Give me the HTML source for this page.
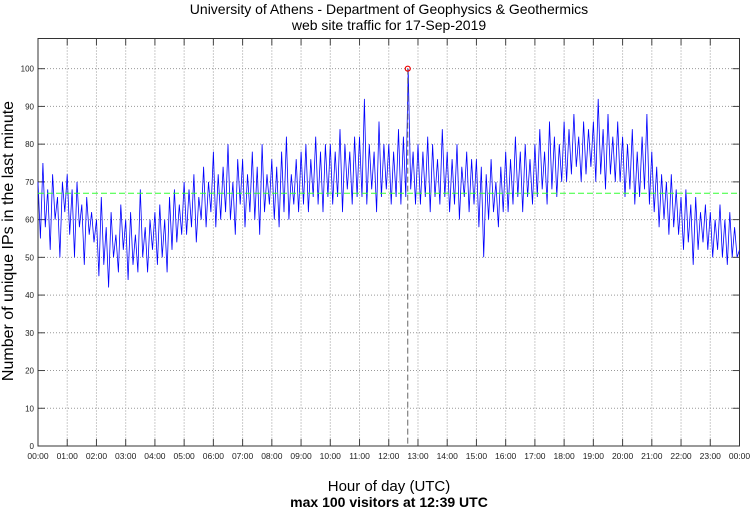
<!DOCTYPE html>
<html><head><meta charset="utf-8"><style>
body{margin:0;background:#fff}
svg{display:block;font-family:"Liberation Sans",sans-serif}
</style></head><body>
<svg id="chart" width="750" height="511" viewBox="0 0 750 511">
<g id="grid"></g>
<g id="axes"></g>
<g id="series"></g>
<text x="389" y="14" font-size="14" text-anchor="middle">University of Athens - Department of Geophysics &amp; Geothermics</text>
<text x="389" y="30" font-size="14" text-anchor="middle">web site traffic for 17-Sep-2019</text>
<text x="389" y="491" font-size="15" text-anchor="middle">Hour of day (UTC)</text>
<text x="389" y="507" font-size="14" font-weight="bold" text-anchor="middle">max 100 visitors at 12:39 UTC</text>
<text transform="translate(13,241) rotate(-90)" font-size="16" text-anchor="middle">Number of unique IPs in the last minute</text>
</svg>
<script>
const yTicks=[0,10,20,30,40,50,60,70,80,90,100];
const xTickLabels=["00:00","01:00","02:00","03:00","04:00","05:00","06:00","07:00","08:00","09:00","10:00","11:00","12:00","13:00","14:00","15:00","16:00","17:00","18:00","19:00","20:00","21:00","22:00","23:00","00:00"];
const meanLevel=67;
const peakHour=12.65;
const peakValue=100;
const visitors=[
70,55,75,58,68,52,72,60,66,50,70,62,
72,56,68,50,70,58,64,48,66,56,62,54,
60,45,66,48,58,42,62,50,56,46,64,52,
60,44,62,48,56,46,68,50,58,46,60,52,
62,48,64,50,60,46,66,52,68,54,64,56,
70,56,68,58,72,54,66,60,74,58,70,62,
78,58,72,60,74,62,80,60,70,56,76,64,
76,58,72,62,78,60,74,56,80,62,72,64,
76,60,74,58,78,62,82,60,72,64,76,62,
78,64,80,62,76,66,82,64,78,62,80,66,
80,64,78,66,84,62,80,68,78,64,82,66,
82,66,92,64,80,68,78,62,86,66,80,68,
80,64,78,66,84,64,82,66,100,68,78,64,
80,64,78,66,82,62,80,66,76,64,84,66,
78,62,76,64,80,60,74,66,78,62,76,64,
76,58,74,50,72,60,76,62,70,58,74,62,
78,62,76,64,82,66,78,62,80,66,76,64,
80,66,84,68,78,64,86,68,82,66,80,70,
86,70,84,72,88,74,82,70,86,72,84,74,
86,70,92,72,84,68,88,72,82,70,86,70,
82,66,80,68,84,64,78,66,82,68,88,64,
78,62,74,58,72,60,70,56,72,58,68,56,
66,52,68,54,64,48,66,52,62,54,64,52,
62,50,60,52,64,50,60,48,62,50,58,50,
52];
const X0=38,X1=739.5,Y0=446,Y1=38.5,YMAX=108;
const x=h=>X0+(X1-X0)*h/24;
const y=v=>Y0-(Y0-Y1)*v/YMAX;
const NS="http://www.w3.org/2000/svg";
function mk(tag,attrs,parent){const e=document.createElementNS(NS,tag);for(const k in attrs)e.setAttribute(k,attrs[k]);parent.appendChild(e);return e;}
const grid=document.getElementById('grid'),axes=document.getElementById('axes'),series=document.getElementById('series');
yTicks.forEach(v=>{
  if(v>0){const g=mk('line',{x1:X0,x2:X1,y1:y(v),y2:y(v),stroke:'#999','stroke-width':1,'stroke-dasharray':'1,2'},grid);
  
  }
  const t=mk('text',{x:X0-4,y:y(v)+3,'font-size':8,'text-anchor':'end',fill:'#222'},axes);t.textContent=v;
  
  
  mk('line',{x1:X0,x2:X0+7,y1:y(v),y2:y(v),stroke:'#444'},axes);
  mk('line',{x1:X1-7,x2:X1,y1:y(v),y2:y(v),stroke:'#444'},axes);
});
xTickLabels.forEach((lab,i)=>{
  if(i>0&&i<24){const g=mk('line',{x1:x(i),x2:x(i),y1:Y1,y2:Y0,stroke:'#999','stroke-width':1,'stroke-dasharray':'1,2'},grid);
  
  }
  const t=mk('text',{x:x(i),y:Y0+13,'font-size':8.5,'text-anchor':'middle',fill:'#222'},axes);t.textContent=lab;
  
  
  mk('line',{x1:x(i),x2:x(i),y1:Y0-7,y2:Y0,stroke:'#444'},axes);
  mk('line',{x1:x(i),x2:x(i),y1:Y1,y2:Y1+7,stroke:'#444'},axes);
});
const box=mk('rect',{x:X0,y:Y1,width:X1-X0,height:Y0-Y1,fill:'none',stroke:'#333'},axes);


const n=visitors.length-1;
const pts=visitors.map((v,i)=>x(24*i/n).toFixed(1)+','+y(v).toFixed(1)).join(' ');
const line=mk('polyline',{points:pts,fill:'none',stroke:'#0000ff','stroke-width':0.8},series);


const mean=mk('line',{x1:X0,x2:X1,y1:y(meanLevel),y2:y(meanLevel),stroke:'#33ff33','stroke-width':1,'stroke-dasharray':'6,3'},series);


const pl=mk('line',{x1:x(peakHour),x2:x(peakHour),y1:y(peakValue),y2:Y0,stroke:'#666','stroke-width':1,'stroke-dasharray':'6,3'},series);


const pm=mk('circle',{cx:x(peakHour),cy:y(peakValue),r:2.5,fill:'none',stroke:'#e00','stroke-width':1.2},series);


</script>
</body></html>
